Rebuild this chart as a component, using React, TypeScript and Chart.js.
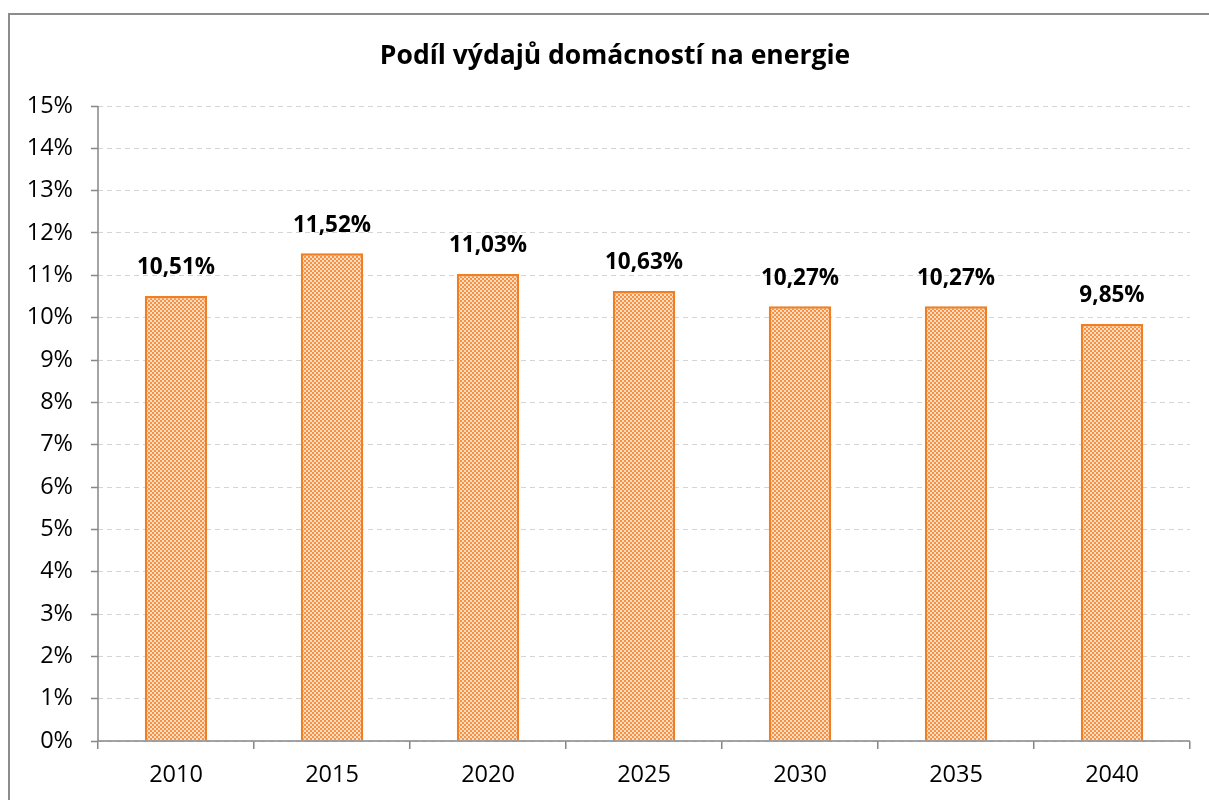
import React, { useEffect, useRef } from 'react';
import { Chart, registerables } from 'chart.js';

Chart.register(...registerables);

const years: string[] = ['2010', '2015', '2020', '2025', '2030', '2035', '2040'];
const shares: number[] = [10.51, 11.52, 11.03, 10.63, 10.27, 10.27, 9.85];
const yMin = 0;
const yMax = 15;
const yStep = 1;
const chartTitle = 'Podíl výdajů domácností na energie';

const FONT = '"Open Sans", "Noto Sans", "DejaVu Sans", sans-serif';

function fmtPct(v: number): string {
  return v.toFixed(2).replace('.', ',') + '%';
}

export default function App() {
  const ref = useRef<HTMLCanvasElement>(null);

  useEffect(() => {
    const canvas = ref.current;
    if (!canvas) return;

    const pc = document.createElement('canvas');
    pc.width = 4;
    pc.height = 4;
    const p = pc.getContext('2d')!;
    p.fillStyle = '#FDDDC2';
    p.fillRect(0, 0, 4, 4);
    p.fillStyle = '#F79143';
    p.fillRect(0, 0, 2, 2);
    p.fillRect(2, 2, 2, 2);
    const pattern = canvas.getContext('2d')!.createPattern(pc, 'repeat');

    const decor = {
      id: 'decor',
      beforeDraw(chart: any) {
        const ctx = chart.ctx;
        ctx.save();
        ctx.fillStyle = '#ffffff';
        ctx.fillRect(0, 0, chart.width, chart.height);
        ctx.strokeStyle = '#8c8c8c';
        ctx.lineWidth = 2;
        ctx.strokeRect(9, 14, chart.width + 20, chart.height + 20);
        ctx.restore();
      },
      afterDatasetsDraw(chart: any) {
        const ctx = chart.ctx;
        const a = chart.chartArea;
        ctx.save();
        ctx.strokeStyle = '#868686';
        ctx.lineWidth = 1.5;
        ctx.setLineDash([]);
        ctx.beginPath();
        ctx.moveTo(a.left, a.top);
        ctx.lineTo(a.left, a.bottom);
        ctx.lineTo(a.right, a.bottom);
        ctx.stroke();

        // title
        ctx.fillStyle = '#000000';
        ctx.font = `bold 26.5px ${FONT}`;
        ctx.textAlign = 'center';
        ctx.textBaseline = 'middle';
        ctx.fillText(chartTitle, 615, 56);

        // data labels
        ctx.font = `bold 22.5px ${FONT}`;
        const meta = chart.getDatasetMeta(0);
        meta.data.forEach((bar: any, i: number) => {
          ctx.fillText(fmtPct(shares[i]), bar.x, bar.y - 28);
        });
        ctx.restore();
      },
    };

    const chart = new Chart(canvas, {
      type: 'bar',
      data: {
        labels: years,
        datasets: [
          {
            data: shares,
            backgroundColor: pattern as any,
            borderColor: '#F07E22',
            borderWidth: 2.5,
            barPercentage: 0.4,
            categoryPercentage: 1,
          },
        ],
      },
      options: {
        responsive: false,
        animation: false,
        layout: { padding: { left: 0, right: 19, top: 106, bottom: 0 } },
        plugins: {
          legend: { display: false },
          title: { display: false },
          tooltip: { enabled: false },
        },
        scales: {
          x: {
            afterFit: (s: any) => {
              s.height = 59;
            },
            border: { display: false },
            grid: {
              display: true,
              offset: true,
              drawOnChartArea: false,
              color: '#868686',
              tickColor: '#868686',
              tickLength: 8,
              lineWidth: 1.5,
            },
            ticks: {
              color: '#000000',
              font: { family: FONT, size: 23.5 },
              padding: 12,
            },
          },
          y: {
            min: yMin,
            max: yMax,
            afterFit: (s: any) => {
              s.width = 98;
            },
            border: { display: false, dash: [5, 4] },
            grid: {
              color: '#d4d4d4',
              tickColor: '#868686',
              tickLength: 7,
              lineWidth: 1,
              tickWidth: 1.5,
              borderDash: [5, 4],
            } as any,
            ticks: {
              stepSize: yStep,
              color: '#000000',
              font: { family: FONT, size: 23.5 },
              padding: 18,
              callback: (v: any) => `${v}%`,
            },
          },
        },
      },
      plugins: [decor],
    });

    return () => chart.destroy();
  }, []);

  return (
    <div style={{ position: 'absolute', left: 0, top: 0, width: 1209, height: 800 }}>
      <canvas ref={ref} width={1209} height={800} style={{ display: 'block' }} />
    </div>
  );
}
